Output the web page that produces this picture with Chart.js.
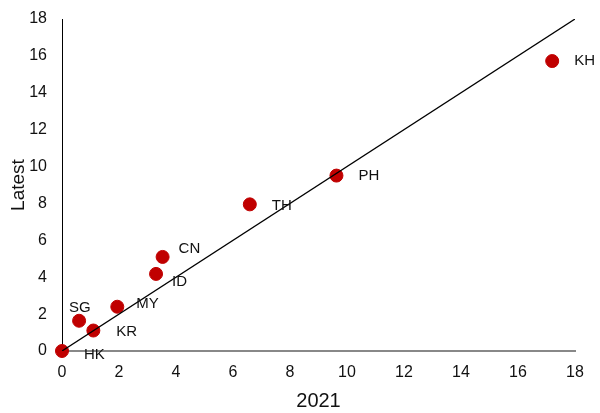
<!DOCTYPE html>
<html lang="en">
<head>
    <meta charset="UTF-8">
    <title>Latest vs 2021</title>
    <style>
        body { margin: 0; background: #fff; }
        #wrap { width: 600px; height: 413px; }
    </style>
</head>
<body>
    <div id="wrap"><canvas id="chart" width="600" height="413"></canvas></div>

    <script src="https://cdn.jsdelivr.net/npm/chart.js"></script>
    <script>
        // data
        const countries = ['HK', 'SG', 'KR', 'MY', 'ID', 'CN', 'TH', 'PH', 'KH'];
        const val2021   = [0, 0.6, 1.1, 1.94, 3.3, 3.53, 6.59, 9.63, 17.2];
        const valLatest = [0, 1.64, 1.11, 2.4, 4.18, 5.1, 7.95, 9.51, 15.72];
        const diagonal  = [0, 18];
        const tickMax = 18;

        // label placement relative to each marker (dx, dy in px)
        const labelOffsets = {
            HK: [22, 4], SG: [-10, -13], KR: [23, 1], MY: [19, -3],
            ID: [16, 8], CN: [16, -8], TH: [22, 1], PH: [22, 0], KH: [22, 0]
        };

        const FONT = '"Liberation Sans", Arial, sans-serif';
        const points = countries.map((c, i) => ({ x: val2021[i], y: valLatest[i] }));

        const pointLabels = {
            id: 'pointLabels',
            afterDatasetsDraw(chart) {
                const ctx = chart.ctx;
                const meta = chart.getDatasetMeta(1);
                ctx.save();
                ctx.font = '15px ' + FONT;
                ctx.fillStyle = '#111';
                ctx.textAlign = 'left';
                ctx.textBaseline = 'middle';
                meta.data.forEach((pt, i) => {
                    const off = labelOffsets[countries[i]];
                    ctx.fillText(countries[i], pt.x + off[0], pt.y + off[1]);
                });
                ctx.restore();
            }
        };

        new Chart(document.getElementById('chart'), {
            type: 'scatter',
            data: {
                datasets: [{
                    type: 'line',
                    data: diagonal.map(v => ({ x: v, y: v })),
                    borderColor: '#000',
                    borderWidth: 1.3,
                    pointRadius: 0,
                    fill: false
                }, {
                    data: points,
                    clip: false,
                    backgroundColor: '#C00000',
                    borderColor: '#C00000',
                    pointRadius: 6.5,
                    pointHoverRadius: 6.5
                }]
            },
            options: {
                responsive: false,
                animation: false,
                layout: { padding: { top: 19, right: 25, left: 0, bottom: 0 } },
                plugins: { legend: { display: false }, tooltip: { enabled: false } },
                scales: {
                    x: {
                        type: 'linear',
                        min: 0, max: tickMax,
                        grid: { display: false, drawTicks: false },
                        border: { color: '#888', width: 2 },
                        ticks: { stepSize: 2, color: '#111', padding: 12,
                                 font: { family: FONT, size: 16 } },
                        title: { display: true, text: '2021', color: '#111', padding: { top: 4, bottom: 0 },
                                 font: { family: FONT, size: 20 } },
                        afterFit(scale) {
                            scale.height = 62;
                            scale.paddingLeft = 0;
                            scale.paddingRight = 0;
                        }
                    },
                    y: {
                        min: 0, max: tickMax,
                        grid: { display: false, drawTicks: false },
                        border: { color: '#000', width: 1 },
                        ticks: { stepSize: 2, color: '#111', padding: 15,
                                 font: { family: FONT, size: 16 } },
                        title: { display: true, text: 'Latest', color: '#111', padding: { top: 7, bottom: 4 },
                                 font: { family: FONT, size: 19 } },
                        afterFit(scale) {
                            scale.width = 62;
                            scale.paddingTop = 0;
                            scale.paddingBottom = 0;
                        }
                    }
                }
            },
            plugins: [pointLabels]
        });
    </script>
</body>
</html>
